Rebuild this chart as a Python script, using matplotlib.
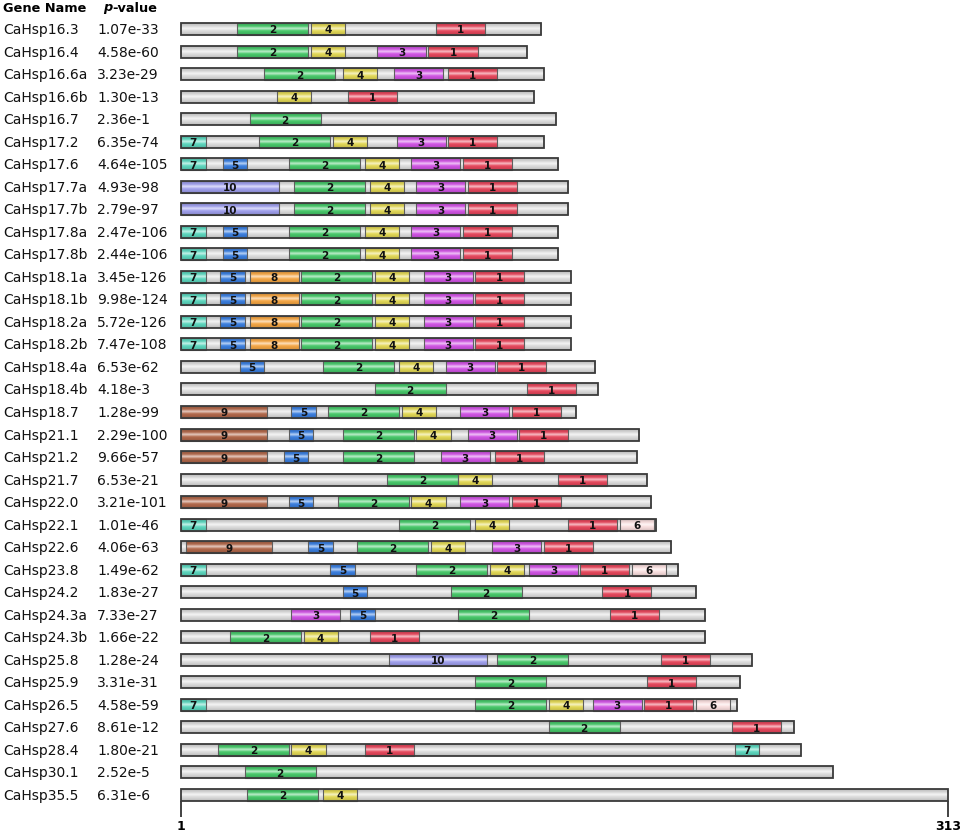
import numpy as np
import matplotlib
matplotlib.use('Agg')
import matplotlib.pyplot as plt
from matplotlib.colors import to_rgb
from matplotlib.patches import Rectangle

# gene names, p-values, protein lengths
genes = ['CaHsp16.3', 'CaHsp16.4', 'CaHsp16.6a', 'CaHsp16.6b', 'CaHsp16.7', 'CaHsp17.2',
         'CaHsp17.6', 'CaHsp17.7a', 'CaHsp17.7b', 'CaHsp17.8a', 'CaHsp17.8b', 'CaHsp18.1a',
         'CaHsp18.1b', 'CaHsp18.2a', 'CaHsp18.2b', 'CaHsp18.4a', 'CaHsp18.4b', 'CaHsp18.7',
         'CaHsp21.1', 'CaHsp21.2', 'CaHsp21.7', 'CaHsp22.0', 'CaHsp22.1', 'CaHsp22.6',
         'CaHsp23.8', 'CaHsp24.2', 'CaHsp24.3a', 'CaHsp24.3b', 'CaHsp25.8', 'CaHsp25.9',
         'CaHsp26.5', 'CaHsp27.6', 'CaHsp28.4', 'CaHsp30.1', 'CaHsp35.5']
pvalues = ['1.07e-33', '4.58e-60', '3.23e-29', '1.30e-13', '2.36e-1', '6.35e-74',
           '4.64e-105', '4.93e-98', '2.79e-97', '2.47e-106', '2.44e-106', '3.45e-126',
           '9.98e-124', '5.72e-126', '7.47e-108', '6.53e-62', '4.18e-3', '1.28e-99',
           '2.29e-100', '9.66e-57', '6.53e-21', '3.21e-101', '1.01e-46', '4.06e-63',
           '1.49e-62', '1.83e-27', '7.33e-27', '1.66e-22', '1.28e-24', '3.31e-31',
           '4.58e-59', '8.61e-12', '1.80e-21', '2.52e-5', '6.31e-6']
lengths = [147, 141, 148, 144, 153, 148, 154, 158, 158, 154, 154, 159, 159, 159, 159,
           169, 170, 161, 187, 186, 190, 192, 194, 200, 203, 210, 214, 214, 233, 228,
           227, 250, 253, 266, 313]

# (motif number, start position) for every gene
motifs = [
    [(2, 23), (4, 53), (1, 104)],
    [(2, 23), (4, 53), (3, 80), (1, 101)],
    [(2, 34), (4, 66), (3, 87), (1, 109)],
    [(4, 39), (1, 68)],
    [(2, 28)],
    [(7, 0), (2, 32), (4, 62), (3, 88), (1, 109)],
    [(7, 0), (5, 17), (2, 44), (4, 75), (3, 94), (1, 115)],
    [(10, 0), (2, 46), (4, 77), (3, 96), (1, 117)],
    [(10, 0), (2, 46), (4, 77), (3, 96), (1, 117)],
    [(7, 0), (5, 17), (2, 44), (4, 75), (3, 94), (1, 115)],
    [(7, 0), (5, 17), (2, 44), (4, 75), (3, 94), (1, 115)],
    [(7, 0), (5, 16), (8, 28), (2, 49), (4, 79), (3, 99), (1, 120)],
    [(7, 0), (5, 16), (8, 28), (2, 49), (4, 79), (3, 99), (1, 120)],
    [(7, 0), (5, 16), (8, 28), (2, 49), (4, 79), (3, 99), (1, 120)],
    [(7, 0), (5, 16), (8, 28), (2, 49), (4, 79), (3, 99), (1, 120)],
    [(5, 24), (2, 58), (4, 89), (3, 108), (1, 129)],
    [(2, 79), (1, 141)],
    [(9, 0), (5, 45), (2, 60), (4, 90), (3, 114), (1, 135)],
    [(9, 0), (5, 44), (2, 66), (4, 96), (3, 117), (1, 138)],
    [(9, 0), (5, 42), (2, 66), (3, 106), (1, 128)],
    [(2, 84), (4, 113), (1, 154)],
    [(9, 0), (5, 44), (2, 64), (4, 94), (3, 114), (1, 135)],
    [(7, 0), (2, 89), (4, 120), (1, 158), (6, 179)],
    [(9, 2), (5, 52), (2, 72), (4, 102), (3, 127), (1, 148)],
    [(7, 0), (5, 61), (2, 96), (4, 126), (3, 142), (1, 163), (6, 184)],
    [(5, 66), (2, 110), (1, 172)],
    [(3, 45), (5, 69), (2, 113), (1, 175)],
    [(2, 20), (4, 50), (1, 77)],
    [(10, 85), (2, 129), (1, 196)],
    [(2, 120), (1, 190)],
    [(7, 0), (2, 120), (4, 150), (3, 168), (1, 189), (6, 210)],
    [(2, 150), (1, 225)],
    [(2, 15), (4, 45), (1, 75), (7, 226)],
    [(2, 26)],
    [(2, 27), (4, 58)],
]

motif_width = {1: 20, 2: 29, 3: 20, 4: 14, 5: 10, 6: 14, 7: 10, 8: 20, 9: 35, 10: 40}
motif_color = {1: '#e8475c', 2: '#47c96a', 3: '#d254e6', 4: '#e4da56', 5: '#3a7fe0',
               6: '#fbe0e0', 7: '#5cd8bf', 8: '#f7a744', 9: '#b2684a', 10: '#a0a0ee'}
max_len = 313

fig = plt.figure(figsize=(9.64, 8.37), dpi=100)
ax = fig.add_axes([0, 0, 1, 1])
ax.axis('off')

# map residue 0 -> px 181, 313 -> px 948 ; row 0 -> px 30, row 34 -> px 796
px_per_res = 767 / max_len
px_per_row = 766 / 34
ax.set_xlim(-181 / px_per_res, (964 - 181) / px_per_res)
ax.set_ylim((837 - 30) / px_per_row, -30 / px_per_row)

h = 12 / px_per_row

t = np.linspace(0, 1, 40)
shine = 0.6 * np.exp(-((t - 0.45) / 0.13) ** 2)
shade = 1 - 0.18 * np.abs(2 * t - 1) ** 2


def grad_box(x0, x1, y, color, z):
    c = np.array(to_rgb(color))
    img = (c[None, :] * shade[:, None]) * (1 - shine[:, None]) + shine[:, None]
    img = np.clip(img, 0, 1)[:, None, :]
    ax.imshow(img, extent=[x0, x1, y + h / 2, y - h / 2], aspect='auto',
              interpolation='bilinear', zorder=z)


for i, gene in enumerate(genes):
    y = i
    grad_box(0, lengths[i], y, '#dedede', 1)
    for m, s in motifs[i]:
        w = motif_width[m]
        grad_box(s, s + w, y, motif_color[m], 2)
        ax.add_patch(Rectangle((s, y - h / 2), w, h, fill=False, edgecolor='#5e5e5e',
                               lw=0.8, zorder=3))
        ax.text(s + w / 2, y + 0.02, str(m), ha='center', va='center', fontsize=7.5,
                fontweight='bold', color='#111111', zorder=4)
    ax.add_patch(Rectangle((0, y - h / 2), lengths[i], h, fill=False, edgecolor='#3a3a3a',
                           lw=1.3, zorder=4))

    ax.text(3 / 964, y, gene, transform=ax.get_yaxis_transform(), ha='left', va='center',
            fontsize=10, color='#111111')
    ax.text(97 / 964, y, pvalues[i], transform=ax.get_yaxis_transform(), ha='left',
            va='center', fontsize=10, color='#111111')

# header
hy = -22 / px_per_row
ax.text(3 / 964, hy, 'Gene Name', transform=ax.get_yaxis_transform(), ha='left',
        va='center', fontsize=9.3, fontweight='bold')
tp = ax.text(103 / 964, hy, 'p', transform=ax.get_yaxis_transform(), ha='left',
             va='center', fontsize=9.3, fontweight='bold', fontstyle='italic')
ax.annotate('-value', xy=(1, 0), xycoords=tp, ha='left', va='bottom', fontsize=9.3,
            fontweight='bold')

# scale at the bottom
last = len(genes) - 1
ax.vlines([0, max_len], last + h / 2, last + 22 / px_per_row, color='#222222', lw=1.2)
ax.text(0, last + 30 / px_per_row, '1', ha='center', va='center', fontsize=9,
        fontweight='bold')
ax.text(max_len, last + 30 / px_per_row, str(max_len), ha='center', va='center',
        fontsize=9, fontweight='bold')

fig.savefig('out.png', dpi=100)
